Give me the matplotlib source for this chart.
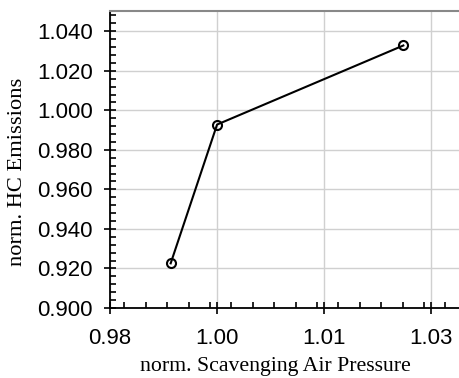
import matplotlib
matplotlib.use('Agg')
import matplotlib.pyplot as plt
from matplotlib.ticker import FixedLocator, MultipleLocator, FormatStrFormatter, AutoMinorLocator

# data
scav_pressure = [0.9905, 0.997, 1.0231]
hc_emissions = [0.9226, 0.9928, 1.0328]
x_ticks = [0.982, 0.997, 1.012, 1.027]

fig = plt.figure(figsize=(4.59, 3.78), dpi=100)
ax = fig.add_axes([0.2397, 0.1852, 0.7603, 0.7844])

ax.plot(scav_pressure, hc_emissions, color='black', lw=1.5, marker='o',
        markersize=6.5, markerfacecolor='none', markeredgewidth=1.5, zorder=3)

ax.set_xlim(0.982, 1.0309)
ax.set_ylim(0.900, 1.050)
ax.xaxis.set_major_locator(FixedLocator(x_ticks))
ax.xaxis.set_major_formatter(FormatStrFormatter('%.2f'))
ax.xaxis.set_minor_locator(MultipleLocator(0.003))
ax.yaxis.set_major_locator(MultipleLocator(0.02))
ax.yaxis.set_major_formatter(FormatStrFormatter('%.3f'))
ax.yaxis.set_minor_locator(AutoMinorLocator(5))

ax.grid(True, which='major', color='#d0d0d0', lw=1)
ax.set_axisbelow(True)

for lab in ax.get_xticklabels() + ax.get_yticklabels():
    lab.set_fontfamily('Liberation Sans')
ax.tick_params(which='major', direction='inout', length=9, width=1.2, labelsize=16)
ax.tick_params(axis='y', which='major', pad=8)
ax.tick_params(axis='x', which='major', pad=10)
ax.tick_params(which='minor', direction='in', length=4, width=1.2)

ax.spines['right'].set_visible(False)
ax.spines['top'].set_color('#888888')
ax.spines['top'].set_linewidth(1.5)
ax.spines['left'].set_linewidth(1.3)
ax.spines['bottom'].set_linewidth(1.3)

ax.set_xlabel('norm. Scavenging Air Pressure', family='Liberation Serif', fontsize=15.7)
ax.set_ylabel('norm. HC Emissions', family='Liberation Serif', fontsize=16.2)
ax.xaxis.set_label_coords(0.473, -0.166)
ax.yaxis.set_label_coords(-0.238, 0.459)

fig.savefig('out.png', dpi=100)
